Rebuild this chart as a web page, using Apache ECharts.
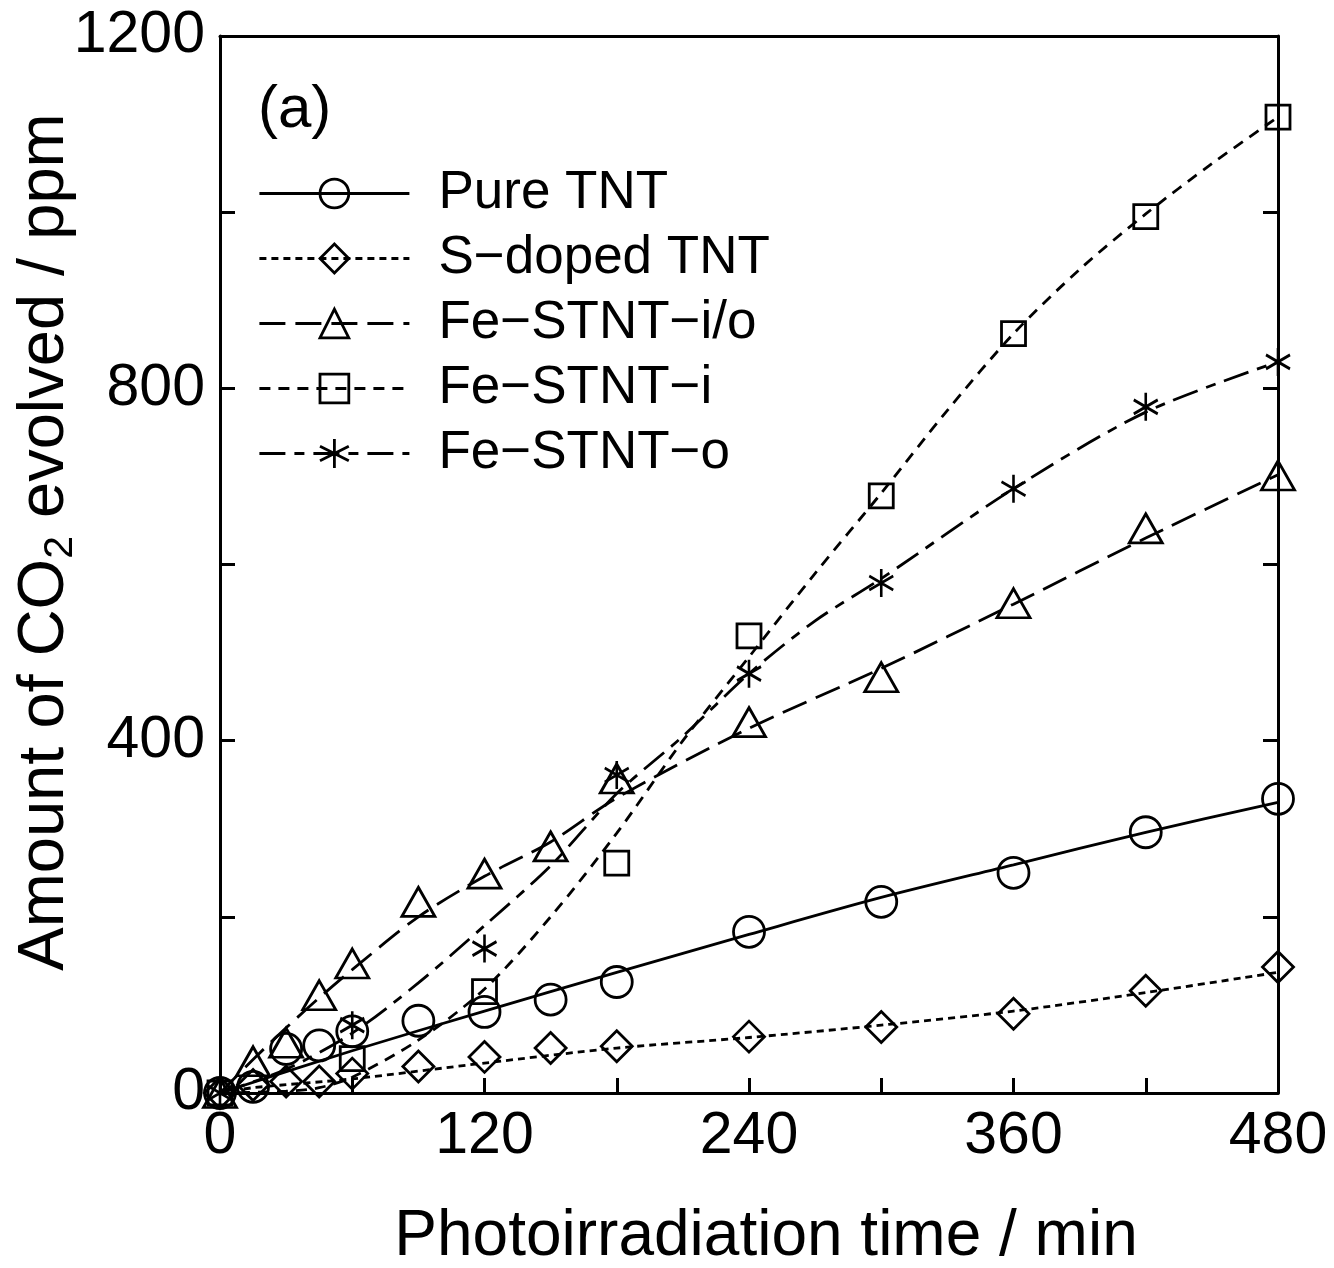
<!DOCTYPE html>
<html>
<head>
<meta charset="utf-8">
<script src="https://cdn.jsdelivr.net/npm/echarts@6/dist/echarts.min.js"></script>
<style>
  html, body { margin: 0; padding: 0; background: #fff; }
  #chart { width: 1334px; height: 1268px; }
</style>
</head>
<body>
<div id="chart"></div>
<script>
// ---- Data ----
const seriesNames = ['Pure TNT', 'S\u2212doped TNT', 'Fe\u2212STNT\u2212i/o', 'Fe\u2212STNT\u2212i', 'Fe\u2212STNT\u2212o'];

// measured points
const timesA = [0, 15, 30, 45, 60, 90, 120, 150, 180, 240, 300, 360, 420, 480];
const pureTNT = [0, 7, 50, 54, 70, 82, 92, 106, 126, 183, 217, 250, 296, 334];
const sDopedTNT = [0, 9, 13, 13, 22, 30, 41, 51, 53, 64, 75, 90, 116, 143];
const feSTNTio = [0, 36, 57, 111, 147, 217, 249, 280, 357, 421, 472, 556, 641, 701];

const timesB = [0, 60, 120, 180, 240, 300, 360, 420, 480];
const feSTNTi = [0, 39, 115, 261, 519, 678, 862, 995, 1108];
const feSTNTo = [0, 77, 164, 361, 476, 579, 686, 779, 830];

// guide curves as drawn in the reference
const pureCurveX = [0, 60, 120, 180, 240, 300, 360, 420, 480];
const pureCurveY = [0, 48, 93, 137, 180, 222, 259, 296, 330];
const sDopedCurveX = [0, 15, 60, 120, 180, 240, 300, 360, 420, 480];
const sDopedCurveY = [0, 6, 16, 34, 51, 63, 77, 93, 114, 137];
const ioCurveX = [0, 15, 30, 45, 60, 90, 120, 150, 180, 240, 300, 360, 420, 480];
const ioCurveY = [0, 38, 74, 108, 140, 200, 246, 285, 335, 414, 482, 555, 630, 702];
const iCurveX = [0, 30, 45, 60, 90, 120, 150, 180, 210, 240, 270, 300, 330, 360, 390, 420, 450, 480];
const iCurveY = [0, 2, 6, 18, 60, 118, 200, 295, 400, 495, 590, 681, 775, 862, 935, 998, 1055, 1108];
const oCurveX = [0, 30, 60, 90, 120, 150, 180, 210, 240, 270, 300, 360, 420, 480];
const oCurveY = [0, 27, 68, 125, 190, 258, 340, 405, 476, 536, 584, 686, 773, 830];

// axis tick labels
const xTickLabels = [0, 120, 240, 360, 480];
const yTickLabels = [0, 400, 800, 1200];

// ---- Styling ----
const FONT = 'Liberation Sans, Arial, Helvetica, sans-serif';
const LW = 2.8;
const dashes = {
  pure: 'solid',
  sdoped: [7, 5],
  io: [26, 10],
  i: [11, 8],
  o: [26, 9, 10, 9]
};
const ASTERISK = 'path://M12,0L12,28M0,7L24,21M0,21L24,7';

function zip(xs, ys) { return xs.map((x, i) => [x, ys[i]]); }

const markerDefs = [
  { name: seriesNames[0], x: timesA, y: pureTNT, symbol: 'circle', size: 31, dash: dashes.pure, cx: pureCurveX, cy: pureCurveY },
  { name: seriesNames[1], x: timesA, y: sDopedTNT, symbol: 'diamond', size: [31, 31], dash: dashes.sdoped, cx: sDopedCurveX, cy: sDopedCurveY },
  { name: seriesNames[2], x: timesA, y: feSTNTio, symbol: 'triangle', size: [33, 29], dash: dashes.io, cx: ioCurveX, cy: ioCurveY },
  { name: seriesNames[3], x: timesB, y: feSTNTi, symbol: 'rect', size: 24, dash: dashes.i, cx: iCurveX, cy: iCurveY },
  { name: seriesNames[4], x: timesB, y: feSTNTo, symbol: ASTERISK, size: [24, 28], dash: dashes.o, cx: oCurveX, cy: oCurveY }
];

const series = [];
markerDefs.forEach(d => {
  series.push({
    name: d.name + ' curve',
    type: 'line',
    data: zip(d.cx, d.cy),
    smooth: 0.3,
    symbol: 'none',
    silent: true,
    clip: false,
    lineStyle: { color: '#000', width: LW, type: d.dash },
    z: 2
  });
  series.push({
    name: d.name,
    type: 'line',
    data: zip(d.x, d.y),
    symbol: d.symbol,
    symbolSize: d.size,
    showAllSymbol: true,
    silent: true,
    clip: false,
    lineStyle: { color: 'transparent', width: 0 },
    itemStyle: { color: 'transparent', borderColor: '#000', borderWidth: LW },
    z: 3
  });
});

const legendData = markerDefs.map(d => ({
  name: d.name,
  lineStyle: { color: '#000', width: LW, type: d.dash, opacity: 1 },
  itemStyle: { color: 'transparent', borderColor: '#000', borderWidth: LW }
}));

const axisLineStyle = { show: true, onZero: false, lineStyle: { color: '#000', width: 3 } };
const tickStyle = { show: true, inside: true, length: 15, lineStyle: { color: '#000', width: 3 } };

const chart = echarts.init(document.getElementById('chart'), null, { renderer: 'canvas' });
chart.setOption({
  animation: false,
  backgroundColor: '#fff',
  grid: { left: 220, top: 36, right: 56, bottom: 175, containLabel: false },
  xAxis: [
    {
      type: 'value', min: 0, max: 480, interval: 60, position: 'bottom',
      axisLine: axisLineStyle, axisTick: tickStyle, splitLine: { show: false },
      axisLabel: {
        show: true, margin: 14, color: '#000', fontSize: 59, fontFamily: FONT,
        formatter: v => (xTickLabels.indexOf(v) >= 0 ? String(v) : '')
      }
    },
    {
      type: 'value', min: 0, max: 480, interval: 60, position: 'top',
      axisLine: axisLineStyle, axisTick: { show: false }, splitLine: { show: false },
      axisLabel: { show: false }
    }
  ],
  yAxis: [
    {
      type: 'value', min: 0, max: 1200, interval: 200, position: 'left',
      axisLine: axisLineStyle, axisTick: tickStyle, splitLine: { show: false },
      axisLabel: {
        show: true, margin: 15, color: '#000', fontSize: 59, fontFamily: FONT,
        formatter: v => (yTickLabels.indexOf(v) >= 0 ? String(v) : '')
      }
    },
    {
      type: 'value', min: 0, max: 1200, interval: 200, position: 'right',
      axisLine: axisLineStyle, axisTick: tickStyle, splitLine: { show: false },
      axisLabel: { show: false }
    }
  ],
  legend: {
    data: legendData,
    orient: 'vertical',
    left: 258,
    top: 167,
    padding: 0,
    itemWidth: 150,
    itemHeight: 36,
    itemGap: 12,
    selectedMode: false,
    textStyle: { color: '#000', fontSize: 53, fontFamily: FONT, lineHeight: 52, padding: [0, 0, 0, 24] }
  },
  graphic: [
    {
      type: 'text', left: 258, top: 80, silent: true,
      style: { text: '(a)', fill: '#000', font: '60px ' + FONT }
    },
    {
      type: 'text', silent: true,
      x: 766, y: 1237,
      style: {
        text: 'Photoirradiation time / min', fill: '#000', font: '64px ' + FONT,
        align: 'center', verticalAlign: 'middle'
      }
    },
    {
      type: 'text', silent: true,
      x: 45, y: 542, rotation: Math.PI / 2,
      style: {
        text: '{a|Amount of CO}{s|2}{a| evolved / ppm}',
        align: 'center', verticalAlign: 'middle',
        rich: {
          a: { fontSize: 65, fontFamily: FONT, fill: '#000', lineHeight: 72 },
          s: { fontSize: 41, fontFamily: FONT, fill: '#000', lineHeight: 41, verticalAlign: 'bottom' }
        }
      }
    }
  ],
  series: series
});
</script>
</body>
</html>
